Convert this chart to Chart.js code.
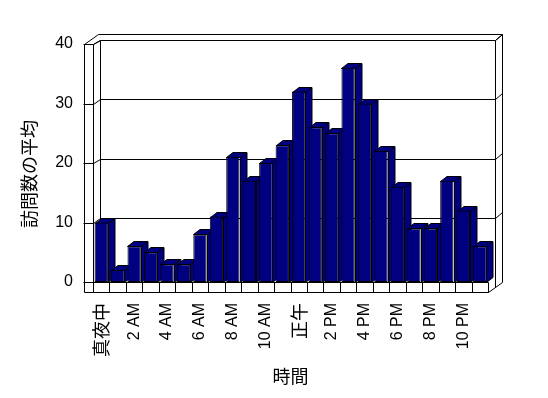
<!DOCTYPE html>
<html>
<head>
<meta charset="utf-8">
<script src="https://cdn.jsdelivr.net/npm/chart.js@4/dist/chart.umd.min.js"></script>
<style>
html,body{margin:0;padding:0;background:#fff;}
canvas{display:block;}
</style>
</head>
<body>
<canvas id="c" width="548" height="398"></canvas>
<script>
const categories = ['真夜中','1 AM','2 AM','3 AM','4 AM','5 AM','6 AM','7 AM','8 AM','9 AM','10 AM','11 AM',
                    '正午','1 PM','2 PM','3 PM','4 PM','5 PM','6 PM','7 PM','8 PM','9 PM','10 PM','11 PM'];
const visits = [10,2,6,5,3,3,8,11,21,17,20,23,32,26,25,36,30,22,16,9,9,17,12,6];
const yTickValues = [0,10,20,30,40];
const xTitle = '時間';
const yTitle = '訪問数の平均';

const BAR = '#000080';
const cjk = s => /[\u3000-\u9fff]/.test(s);

const frame3d = {
  id: 'frame3d',
  beforeDatasetsDraw(chart) {
    const {ctx, chartArea, scales} = chart;
    const L = chartArea.left, R = chartArea.right, T = chartArea.top, B = chartArea.bottom;
    const Lw = L - 9, Bf = B + 10;
    const d1 = [7, -4.5], d2 = [13.5, -10.5];
    const p = v => Math.round(v) + 0.5;
    ctx.save();
    ctx.strokeStyle = '#000';
    ctx.lineWidth = 1;
    const line = (x1, y1, x2, y2) => {
      ctx.beginPath(); ctx.moveTo(p(x1), p(y1)); ctx.lineTo(p(x2), p(y2)); ctx.stroke();
    };
    // back wall inner edges
    line(L + d1[0], T + d1[1], R + d1[0], T + d1[1]);
    line(L + d1[0], T + d1[1], L + d1[0], B + d1[1]);
    line(R + d1[0], T + d1[1], R + d1[0], Bf - 5.4);
    // outer top / right
    line(Lw + d2[0], T + d2[1], R + d2[0], T + d2[1]);
    line(R + d2[0], T + d2[1], R + d2[0], Bf + d2[1]);
    line(R + d1[0], T + d1[1], R + d2[0], T + d2[1]);
    line(R, Bf, R + d2[0], Bf + d2[1]);
    // left wall top
    line(Lw, T, Lw + d2[0], T + d2[1]);
    line(L, T, L + d1[0], T + d1[1]);
    // gridlines
    const ys = scales.y;
    yTickValues.forEach(v => {
      const py = ys.getPixelForValue(v);
      if (v > 0 && v < 40) line(L + d1[0], py + d1[1], R + d1[0], py + d1[1]);
      if (v > 0) {
        line(L, py, L + d1[0], py + d1[1]);
        line(R + d1[0], py + d1[1], R + d2[0], py + d2[1]);
      }
      line(Lw - 1, py, L, py);
    });
    // left wall front face and floor front face
    ctx.beginPath();
    ctx.rect(p(Lw), p(T), Math.round(L - Lw), Math.round(Bf - T));
    ctx.stroke();
    ctx.beginPath();
    ctx.rect(p(L), p(B), Math.round(R - L), Math.round(Bf - B));
    ctx.stroke();
    const xs = scales.x;
    const cw = (R - L) / categories.length;
    for (let i = 1; i < categories.length; i++) {
      const bx = xs.getPixelForValue(i) - cw / 2;
      line(bx, B, bx, Bf);
    }
    // 3D faces of bars
    const bd = [6.5, -5];
    const meta = chart.getDatasetMeta(0);
    meta.data.forEach(bar => {
      const {x, y, base, width} = bar.getProps(['x', 'y', 'base', 'width'], true);
      const l = Math.round(x - width / 2), r = Math.round(x + width / 2), t = Math.round(y), b = Math.round(base);
      ctx.fillStyle = BAR;
      ctx.beginPath();
      ctx.moveTo(r + 0.5, t + 0.5);
      ctx.lineTo(r + bd[0] + 0.5, t + bd[1] + 0.5);
      ctx.lineTo(r + bd[0] + 0.5, b + bd[1] + 0.5);
      ctx.lineTo(r + 0.5, b + 0.5);
      ctx.closePath();
      ctx.fill(); ctx.stroke();
      ctx.beginPath();
      ctx.moveTo(l + 0.5, t + 0.5);
      ctx.lineTo(l + bd[0] + 0.5, t + bd[1] + 0.5);
      ctx.lineTo(r + bd[0] + 0.5, t + bd[1] + 0.5);
      ctx.lineTo(r + 0.5, t + 0.5);
      ctx.closePath();
      ctx.fill(); ctx.stroke();
    });
    ctx.restore();
  }
};

new Chart(document.getElementById('c'), {
  type: 'bar',
  data: {
    labels: categories,
    datasets: [{
      data: visits,
      backgroundColor: BAR,
      borderColor: '#000',
      borderWidth: 1,
      borderSkipped: false,
      barPercentage: 0.81,
      categoryPercentage: 1.0
    }]
  },
  options: {
    responsive: false,
    animation: false,
    devicePixelRatio: 1,
    layout: { padding: { left: 0, top: 44, right: 60, bottom: 0 } },
    plugins: { legend: { display: false }, tooltip: { enabled: false } },
    scales: {
      x: {
        grid: { display: false, drawTicks: false },
        border: { display: false },
        afterFit: s => { s.height = 116; },
        ticks: {
          autoSkip: false,
          minRotation: 90,
          maxRotation: 90,
          padding: 21,
          color: '#000',
          callback: function(v, i) { return i % 2 === 0 ? categories[i] : ''; },
          font: ctx => (ctx.tick && cjk(String(ctx.tick.label)))
            ? { family: '"Noto Sans CJK JP"', size: 18 }
            : { family: '"Liberation Sans", Arial', size: 16 }
        },
        title: {
          display: true,
          text: xTitle,
          color: '#000',
          font: { family: '"Noto Sans CJK JP"', size: 18 },
          padding: { top: 0, bottom: 11 }
        }
      },
      y: {
        min: 0,
        max: 40,
        grid: { display: false, drawTicks: false },
        border: { display: false },
        afterFit: s => { s.width = 93; },
        afterBuildTicks: s => { s.ticks = yTickValues.map(v => ({ value: v })); },
        ticks: {
          padding: 20,
          color: '#000',
          font: { family: '"Liberation Sans", Arial', size: 16 }
        },
        title: {
          display: true,
          text: yTitle + '\u3000 ',
          color: '#000',
          font: { family: '"Noto Sans CJK JP"', size: 18 },
          padding: { top: 18, bottom: 0 }
        }
      }
    }
  },
  plugins: [frame3d]
});
</script>
</body>
</html>
